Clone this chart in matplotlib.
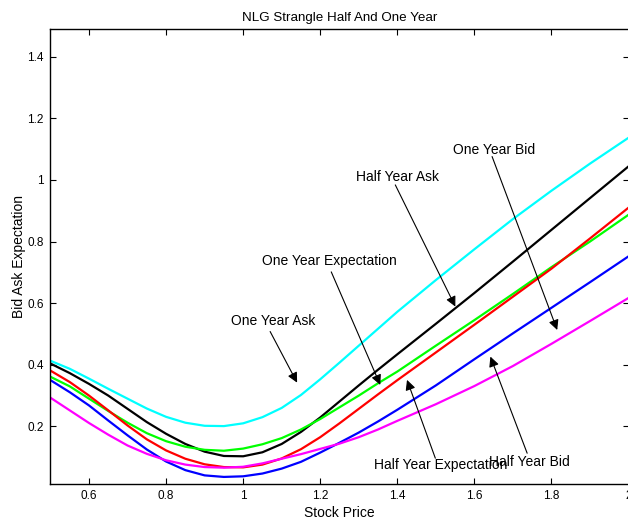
import matplotlib
matplotlib.use("Agg")
import matplotlib.pyplot as plt
from matplotlib.ticker import FuncFormatter

plt.rcParams['font.family'] = ['Liberation Sans', 'DejaVu Sans']
plt.rcParams['font.size'] = 10

# stock price grid
price = [0.5, 0.55, 0.6, 0.65, 0.7, 0.75, 0.8, 0.85, 0.9, 0.95, 1.0, 1.05, 1.1,
         1.15, 1.2, 1.25, 1.3, 1.35, 1.4, 1.5, 1.6, 1.7, 1.8, 1.9, 2.0]

one_year_ask = [0.413, 0.387, 0.355, 0.322, 0.290, 0.258, 0.231, 0.212, 0.202, 0.201,
                0.210, 0.230, 0.260, 0.302, 0.353, 0.407, 0.462, 0.517, 0.572, 0.675,
                0.775, 0.873, 0.965, 1.053, 1.137]
half_year_ask = [0.404, 0.373, 0.338, 0.300, 0.257, 0.214, 0.176, 0.143, 0.118, 0.104,
                 0.103, 0.116, 0.143, 0.182, 0.229, 0.281, 0.333, 0.384, 0.434, 0.533,
                 0.633, 0.735, 0.838, 0.941, 1.044]
one_year_exp = [0.361, 0.330, 0.290, 0.250, 0.212, 0.178, 0.152, 0.134, 0.124, 0.121,
                0.128, 0.142, 0.162, 0.190, 0.224, 0.262, 0.300, 0.340, 0.378, 0.462,
                0.545, 0.630, 0.717, 0.800, 0.887]
half_year_exp = [0.381, 0.344, 0.300, 0.252, 0.203, 0.158, 0.122, 0.095, 0.077, 0.068,
                 0.067, 0.076, 0.096, 0.126, 0.165, 0.210, 0.257, 0.304, 0.350, 0.440,
                 0.530, 0.621, 0.712, 0.810, 0.910]
half_year_bid = [0.350, 0.311, 0.268, 0.219, 0.171, 0.125, 0.086, 0.058, 0.041, 0.036,
                 0.038, 0.047, 0.063, 0.085, 0.115, 0.147, 0.180, 0.216, 0.254, 0.333,
                 0.418, 0.502, 0.585, 0.668, 0.752]
one_year_bid = [0.293, 0.252, 0.211, 0.173, 0.138, 0.111, 0.090, 0.076, 0.068, 0.066,
                0.069, 0.080, 0.095, 0.110, 0.127, 0.144, 0.165, 0.190, 0.218, 0.272,
                0.331, 0.396, 0.468, 0.542, 0.617]

series = [one_year_ask, half_year_ask, one_year_exp, half_year_exp, half_year_bid, one_year_bid]
colors = ['#00ffff', 'k', '#00ff00', '#ff0000', '#0000ff', '#ff00ff']

fig = plt.figure(figsize=(6.28, 5.21), dpi=100)
ax = fig.add_axes([0.0804, 0.071, 0.9204, 0.8733])

for s, c in zip(series, colors):
    ax.plot(price, s, color=c, lw=1.6, solid_joinstyle='round')

ax.set_xlim(0.5, 2.0)
ax.set_ylim(0.013, 1.49)
ax.set_xticks([0.6, 0.8, 1.0, 1.2, 1.4, 1.6, 1.8, 2.0])
ax.set_yticks([0.2, 0.4, 0.6, 0.8, 1.0, 1.2, 1.4])
fmt = FuncFormatter(lambda v, p: "%g" % v)
ax.xaxis.set_major_formatter(fmt)
ax.yaxis.set_major_formatter(fmt)
ax.tick_params(direction='in', length=4, width=0.8, top=True, right=True, labelsize=8.5)
ax.tick_params(axis='x', pad=4)
ax.tick_params(axis='y', pad=5)
for sp in ax.spines.values():
    sp.set_linewidth(1.0)

ax.set_title("NLG Strangle Half And One Year", fontsize=9.6, pad=6)
ax.set_xlabel("Stock Price", labelpad=3)
ax.set_ylabel("Bid Ask Expectation", labelpad=0.5)

# text labels with arrows: (text, text centre, arrow tail, arrow tip)
notes = [
    ("One Year Ask", (1.079, 0.5435), (1.070, 0.508), (1.140, 0.342)),
    ("One Year Expectation", (1.2234, 0.738), (1.2286, 0.7016), (1.3558, 0.3347)),
    ("Half Year Ask", (1.400, 1.011), (1.3948, 0.984), (1.5506, 0.589)),
    ("One Year Bid", (1.652, 1.098), (1.646, 1.076), (1.815, 0.513)),
    ("Half Year Expectation", (1.513, 0.075), (1.4987, 0.0968), (1.4252, 0.351)),
    ("Half Year Bid", (1.743, 0.086), (1.737, 0.113), (1.6416, 0.4266)),
]
for txt, tpos, tail, tip in notes:
    ax.text(tpos[0], tpos[1], txt, ha='center', va='center', fontsize=10)
    ax.annotate('', xy=tip, xytext=tail,
                arrowprops=dict(arrowstyle='-|>', color='k', lw=0.8,
                                mutation_scale=15, shrinkA=0, shrinkB=0))

fig.savefig("out.png", dpi=100)
